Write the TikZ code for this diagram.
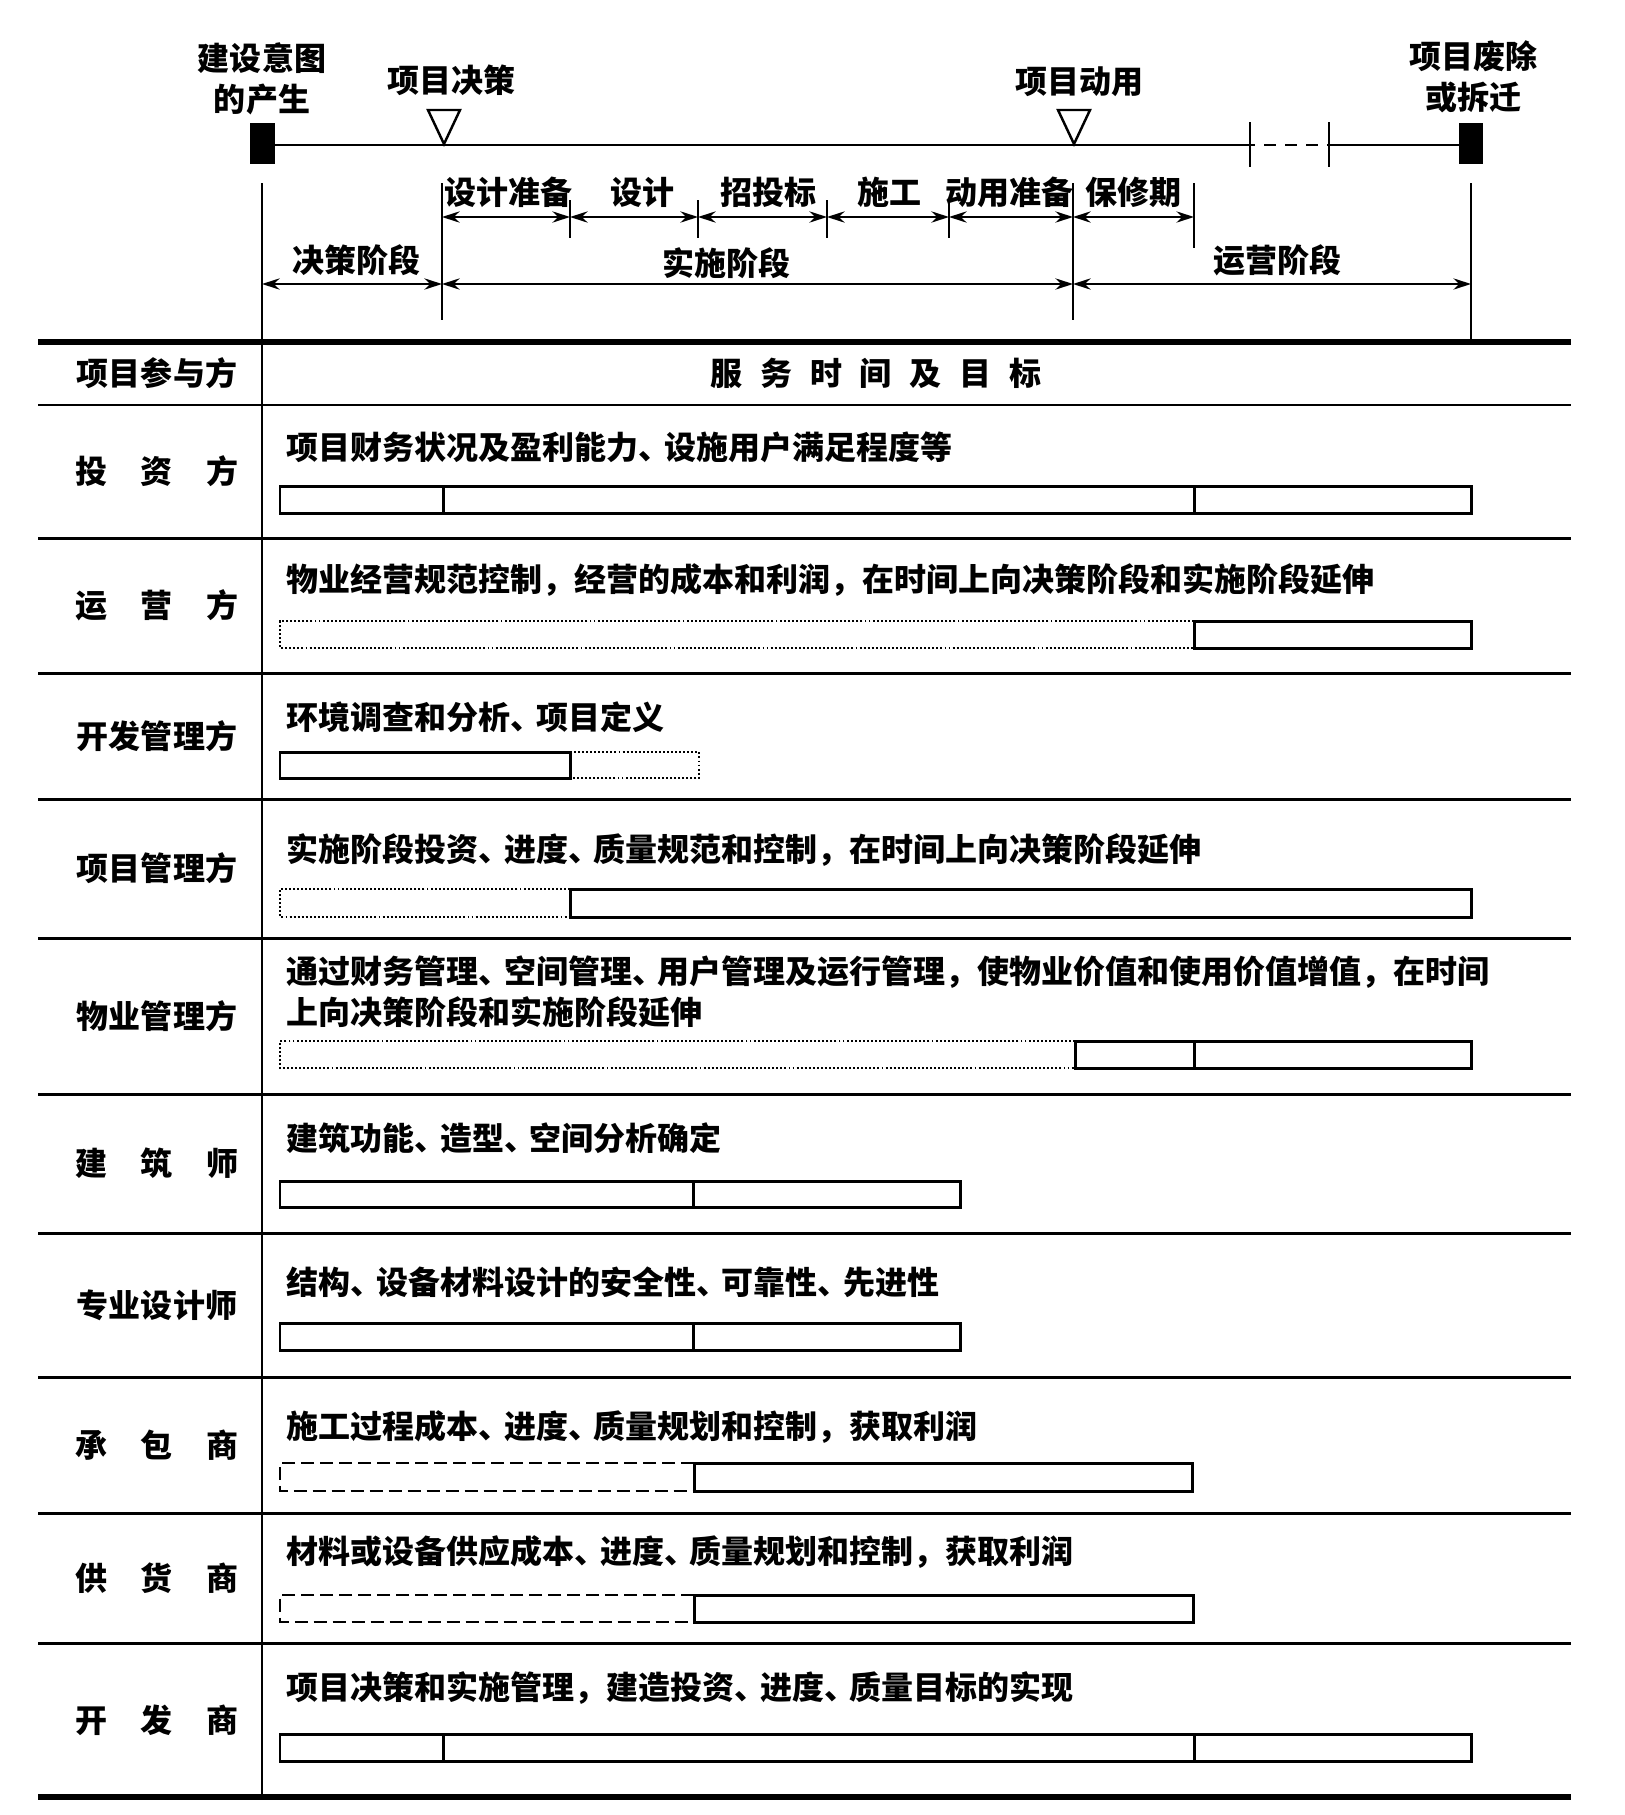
\documentclass[tikz,border=0pt]{standalone}
\usepackage{fontspec}
\setmainfont{Noto Sans CJK SC}
\usetikzlibrary{arrows.meta}
\tikzset{>={Stealth[length=5pt,width=3.2pt]},every node/.style={font=\bfseries\fontsize{9.1pt}{11.8pt}\selectfont,inner sep=0pt},
rule/.style={line width=.85pt},thickrule/.style={line width=1.5pt},tick/.style={line width=.6pt},span/.style={line width=.6pt,<->},
bar/.style={line width=.85pt},dots/.style={line width=.6pt,dash pattern=on .55pt off .6pt},dashes/.style={line width=.7pt,dash pattern=on 3.7pt off 1.7pt}}
\newcommand{\trio}[3]{\makebox[5.1em]{#1\hfill#2\hfill#3}}
\newcommand{\gap}{\hspace{.56em}}
\newcommand{\dun}{\makebox[.8em][l]{、}}
\begin{document}
\begin{tikzpicture}[x=.01cm,y=-.01cm]
\useasboundingbox (0,0) rectangle (1625,1815);
% time axis
\draw[line width=.8pt] (262,145)--(1250,145) (1329,145)--(1471,145);\draw[line width=.8pt,dash pattern=on 3.4pt off 2.6pt,dash phase=-4pt] (1250,145)--(1329,145);
\draw[tick] (1250,122)--(1250,167) (1329,122)--(1329,167);
\fill (250,123) rectangle (275,164);\fill (1459,123) rectangle (1483,164);
\draw[line width=.7pt] (428,110)--(460,110)--(444,144)--cycle;\draw[line width=.7pt] (1058,110)--(1090,110)--(1074,144)--cycle;
\node[align=center] (intent) at (262,79) {建设意图\\的产生};\node (decide) at (451,80) {项目决策};
\node (inuse) at (1079,82) {项目动用};\node[align=center] (scrap) at (1473,77) {项目废除\\或拆迁};
% phases
\foreach \n/\x in {0/262,1/442,2/570,3/698,4/827,5/949,6/1073,7/1194,8/1471}{\coordinate (s\n) at (\x,217);\coordinate (p\n) at (\x,284);}
\draw[tick] (262,183)--(262,342) (442,183)--(442,320) (1073,183)--(1073,320) (1194,183)--(1194,248) (1471,183)--(1471,342);
\foreach \x in {570,698,827,949} \draw[tick] (\x,200)--(\x,238);
\foreach \i/\j in {1/2,2/3,3/4,4/5,5/6,6/7} \draw[span] (s\i)--(s\j);
\draw[span] (p0)--(p1);\draw[span] (p1)--(p6);\draw[span] (p6)--(p8);
\node (prep) at (508,192) {设计准备};\node (design) at (642,192) {设计};\node (bid) at (768,192) {招投标};
\node (build) at (889,192) {施工};\node (useprep) at (1009,192) {动用准备};\node (warranty) at (1133,192) {保修期};
\node (stage1) at (356,260) {决策阶段};\node (stage2) at (726,263) {实施阶段};\node (stage3) at (1277,260) {运营阶段};
% table
\draw[thickrule] (38,342)--(1571,342) (38,1797)--(1571,1797);
\foreach \y in {405,538,673,799,938,1094,1233,1377,1513,1643} \draw[rule] (38,\y)--(1571,\y);
\draw[rule] (262,342)--(262,1797);
\node (party) at (157,373) {项目参与方};\node (goal) at (876,373) {服\gap 务\gap 时\gap 间\gap 及\gap 目\gap 标};
% rows
\node (r1) at (157,471) {\trio{投}{资}{方}};\node[anchor=west] (g1) at (286,447) {项目财务状况及盈利能力\dun 设施用户满足程度等};
\draw[bar] (280,486) rectangle (443,513) (443,486) rectangle (1194,513) (1194,486) rectangle (1471,513);
\node (r2) at (157,605) {\trio{运}{营}{方}};\node[anchor=west] (g2) at (286,580) {物业经营规范控制，经营的成本和利润，在时间上向决策阶段和实施阶段延伸};
\draw[dots] (1194,621)--(280,621)--(280,648)--(1194,648);\draw[bar] (1194,621) rectangle (1471,648);
\node (r3) at (157,736) {开发管理方};\node[anchor=west] (g3) at (286,717) {环境调查和分析\dun 项目定义};
\draw[bar] (280,752) rectangle (570,778);\draw[dots] (570,752)--(699,752)--(699,778)--(570,778);
\node (r4) at (157,868) {项目管理方};\node[anchor=west] (g4) at (286,850) {实施阶段投资\dun 进度\dun 质量规范和控制，在时间上向决策阶段延伸};
\draw[dots] (570,889)--(280,889)--(280,917)--(570,917);\draw[bar] (570,889) rectangle (1471,917);
\node (r5) at (157,1016) {物业管理方};\node[anchor=west,align=left] (g5) at (286,992) {通过财务管理\dun 空间管理\dun 用户管理及运行管理，使物业价值和使用价值增值，在时间\\上向决策阶段和实施阶段延伸};
\draw[dots] (1075,1041)--(280,1041)--(280,1068)--(1075,1068);\draw[bar] (1075,1041) rectangle (1194,1068) (1194,1041) rectangle (1471,1068);
\node (r6) at (157,1163) {\trio{建}{筑}{师}};\node[anchor=west] (g6) at (286,1138) {建筑功能\dun 造型\dun 空间分析确定};
\draw[bar] (280,1181) rectangle (693,1207) (693,1181) rectangle (960,1207);
\node (r7) at (157,1305) {专业设计师};\node[anchor=west] (g7) at (286,1282) {结构\dun 设备材料设计的安全性\dun 可靠性\dun 先进性};
\draw[bar] (280,1323) rectangle (693,1350) (693,1323) rectangle (960,1350);
\node (r8) at (157,1445) {\trio{承}{包}{商}};\node[anchor=west] (g8) at (286,1427) {施工过程成本\dun 进度\dun 质量规划和控制，获取利润};
\draw[dashes] (694,1463)--(280,1463)--(280,1491)--(694,1491);\draw[bar] (694,1463) rectangle (1192,1491);
\node (r9) at (157,1578) {\trio{供}{货}{商}};\node[anchor=west] (g9) at (286,1552) {材料或设备供应成本\dun 进度\dun 质量规划和控制，获取利润};
\draw[dashes] (694,1595)--(280,1595)--(280,1622)--(694,1622);\draw[bar] (694,1595) rectangle (1193,1622);
\node (r10) at (157,1720) {\trio{开}{发}{商}};\node[anchor=west] (g10) at (286,1688) {项目决策和实施管理，建造投资\dun 进度\dun 质量目标的实现};
\draw[bar] (280,1734) rectangle (443,1761) (443,1734) rectangle (1194,1761) (1194,1734) rectangle (1471,1761);
\end{tikzpicture}
\end{document}
